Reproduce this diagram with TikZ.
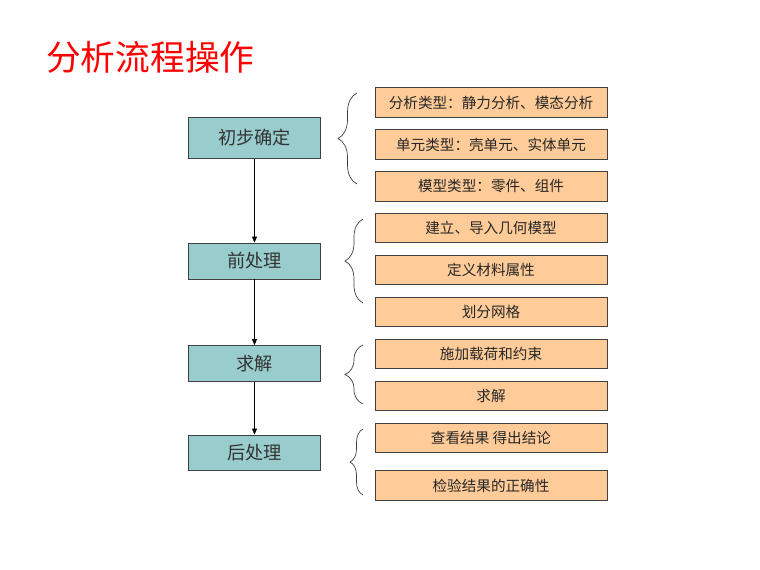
\documentclass[tikz,border=0pt]{standalone}
\usepackage{fontspec}
\setmainfont{Noto Sans CJK SC}
\usetikzlibrary{decorations.pathreplacing,arrows.meta}
\definecolor{teal1}{HTML}{99CCCC}
\definecolor{peach}{HTML}{FFCC99}
\definecolor{edge}{HTML}{404040}
\begin{document}
\begin{tikzpicture}[x=1pt,y=-1pt,
  stage/.style={draw=edge,line width=0.9pt,fill=teal1,minimum width=132pt,minimum height=#1,inner sep=0pt,font=\fontsize{18.2}{21}\selectfont,text=black!80},
  item/.style={draw=edge,line width=0.9pt,fill=peach,minimum width=232pt,minimum height=29.5pt,inner sep=0pt,font=\fontsize{14.6}{17}\selectfont,text=black!85},
  flow/.style={-{Triangle[length=6pt,width=5pt]},line width=0.6pt,black},
  brc/.style={decorate,decoration={brace,amplitude=#1},line width=0.7pt,edge}]
\fill[white] (0,0) rectangle (760,570);
\useasboundingbox (0,0) rectangle (760,570);
\node[anchor=west,text=red,font=\fontsize{34.7}{38}\selectfont,inner sep=0pt] (title) at (46,57) {分析流程操作};
% stages
\node[stage=41pt] (s1) at (254.5,138) {初步确定};
\node[stage=36pt] (s2) at (254.5,261) {前处理};
\node[stage=36pt] (s3) at (254.5,363.5) {求解};
\node[stage=35pt] (s4) at (254.5,452.5) {后处理};
\draw[flow] (s1) -- (s2);
\draw[flow] (s2) -- (s3);
\draw[flow] (s3) -- (s4);
% items
\node[item] (a1) at (491,102.5) {分析类型：静力分析、模态分析};
\node[item] (a2) at (491,144.5) {单元类型：壳单元、实体单元};
\node[item] (a3) at (491,186.5) {模型类型：零件、组件};
\node[item] (b1) at (491,228) {建立、导入几何模型};
\node[item] (b2) at (491,270) {定义材料属性};
\node[item] (b3) at (491,312) {划分网格};
\node[item] (c1) at (491,354) {施加载荷和约束};
\node[item] (c2) at (491,396) {求解};
\node[item] (d1) at (491,438) {查看结果 得出结论};
\node[item] (d2) at (491,485.5) {检验结果的正确性};
% braces
\coordinate (p1b) at (357,184); \coordinate (p1t) at (357,93);
\coordinate (p2b) at (363,303); \coordinate (p2t) at (363,219);
\coordinate (p3b) at (363,404); \coordinate (p3t) at (363,345);
\coordinate (p4b) at (363,495); \coordinate (p4t) at (363,429);
\draw[brc=19pt] (p1b) -- (p1t);
\draw[brc=18pt] (p2b) -- (p2t);
\draw[brc=18pt] (p3b) -- (p3t);
\draw[brc=13pt] (p4b) -- (p4t);
\end{tikzpicture}
\end{document}
